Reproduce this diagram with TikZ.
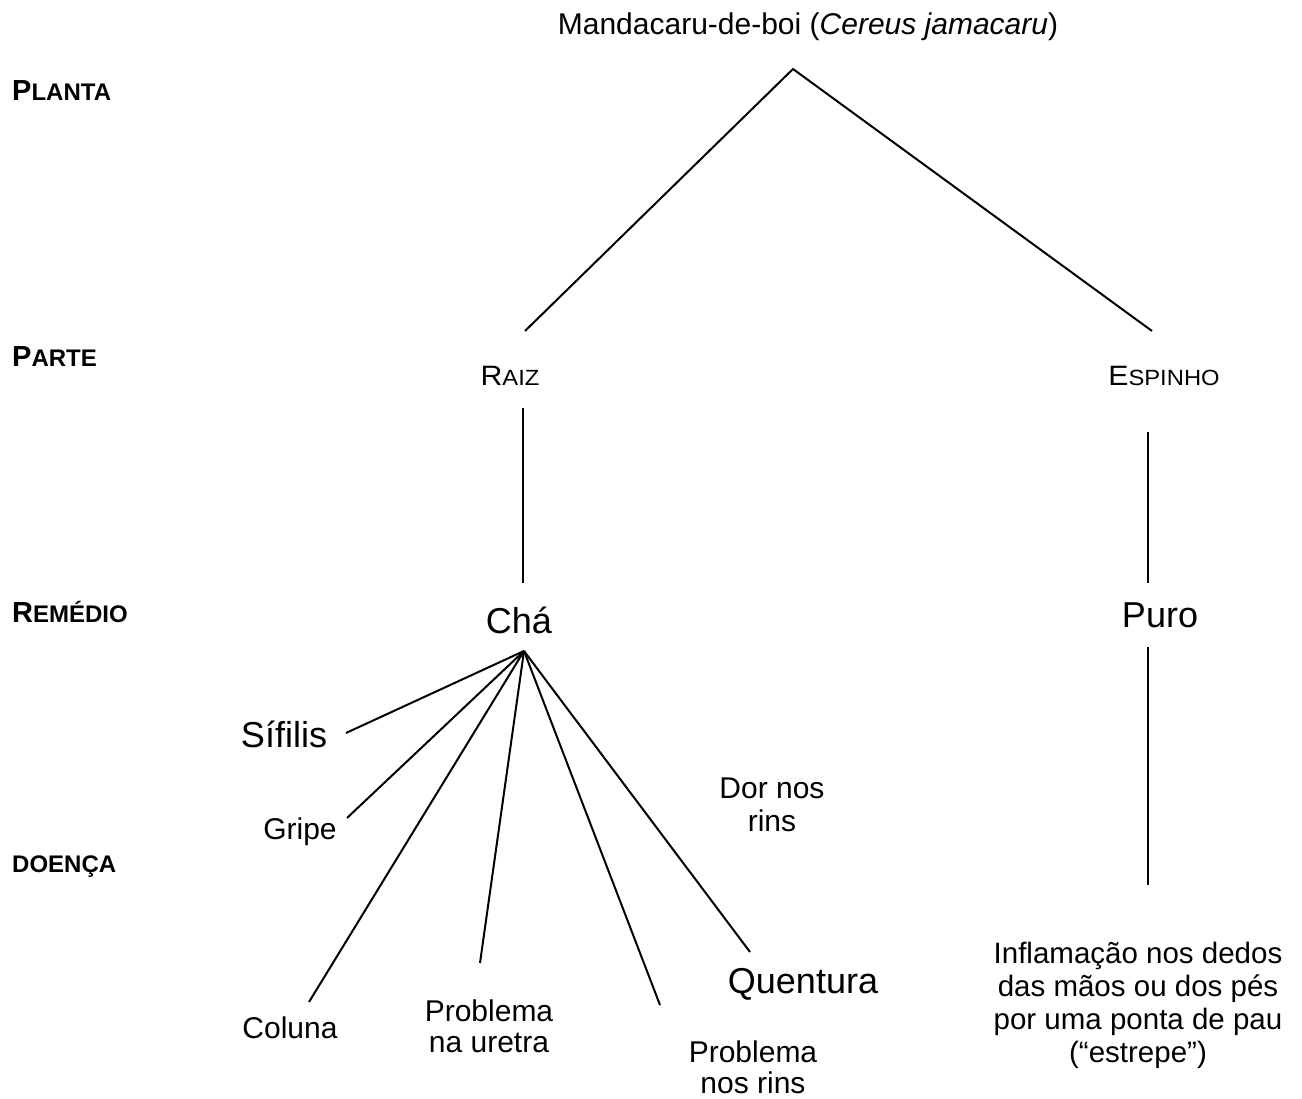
\documentclass[tikz,border=0pt]{standalone}
\usepackage{fontspec}
\setmainfont{Liberation Sans}
\newfontfamily\scwide[FakeStretch=1.08]{Liberation Sans}
\newcommand\fsz[2]{\fontsize{#1}{#2}\selectfont}
\begin{document}
\begin{tikzpicture}[x=1pt,y=-1pt,
  lbl/.style={inner sep=0pt, anchor=base, text=black},
  side/.style={inner sep=0pt, anchor=base west, text=black, font=\bfseries},
  multi/.style={inner sep=0pt, anchor=north, align=center, text=black},
  conn/.style={draw=black, line width=2pt}]
\useasboundingbox[fill=white] (0,0) rectangle (1302,1099);

% side labels
\node[side] (planta) at (12,101) {{\fsz{29}{32}P}\fsz{24}{28}LANTA};
\node[side] (parte) at (12,367) {{\fsz{29}{32}P}\fsz{24}{28}ARTE};
\node[side] (remedio) at (12,622) {{\fsz{29}{32}R}\fsz{24}{28}EMÉDIO};
\node[side] (doenca) at (12,872) {\fsz{24}{28}DOENÇA};

% tree nodes
\node[lbl] (title) at (808,35) {\fsz{30}{34}Mandacaru-de-boi (\textit{Cereus jamacaru})};
\node[lbl] (raiz) at (510,385) {\scwide{\fsz{28}{30}R}\fsz{22}{24}AIZ};
\node[lbl] (espinho) at (1164,385) {\scwide{\fsz{28}{30}E}\fsz{22}{24}SPINHO};
\node[lbl] (cha) at (519,633) {\fsz{36}{40}Chá};
\node[lbl] (puro) at (1160,627) {\fsz{36}{40}Puro};
\node[lbl] (sifilis) at (284,747) {\fsz{36}{40}Sífilis};
\node[lbl] (gripe) at (300,839) {\fsz{30}{34}Gripe};
\node[lbl] (coluna) at (290,1038) {\fsz{30}{34}Coluna};
\node[multi, font=\fsz{30}{31}] (uretra) at (489,1000) {Problema\\na uretra};
\node[multi, font=\fsz{30}{31}] (rins) at (753,1041) {Problema\\nos rins};
\node[multi, font=\fsz{30}{33}] (dor) at (772,778) {Dor nos\\rins};
\node[lbl] (quentura) at (803,993) {\fsz{36}{40}Quentura};
\node[multi, font=\fsz{29.5}{33}] (inflam) at (1138,942) {Inflamação nos dedos\\das mãos ou dos pés\\por uma ponta de pau\\(“estrepe”)};

% connector end points
\coordinate (apex) at (793,69);
\coordinate (raizUp) at (525,331);
\coordinate (espUp) at (1152,331);
\coordinate (raizDown) at (523,408);
\coordinate (chaUp) at (523,583);
\coordinate (espDown) at (1148,432);
\coordinate (puroUp) at (1148,583);
\coordinate (puroDown) at (1148,647);
\coordinate (inflUp) at (1148,885);
\coordinate (hub) at (524,651);
\coordinate (sifEnd) at (346,733);
\coordinate (griEnd) at (347,818);
\coordinate (colEnd) at (309,1002);
\coordinate (ureEnd) at (480,963);
\coordinate (rinEnd) at (660,1005);
\coordinate (queEnd) at (750,952);

% connectors
\draw[conn] (raizUp) -- (apex) -- (espUp);
\draw[conn] (raizDown) -- (chaUp);
\draw[conn] (espDown) -- (puroUp);
\draw[conn] (puroDown) -- (inflUp);
\draw[conn] (hub) -- (sifEnd);
\draw[conn] (hub) -- (griEnd);
\draw[conn] (hub) -- (colEnd);
\draw[conn] (hub) -- (ureEnd);
\draw[conn] (hub) -- (rinEnd);
\draw[conn] (hub) -- (queEnd);
\end{tikzpicture}
\end{document}
